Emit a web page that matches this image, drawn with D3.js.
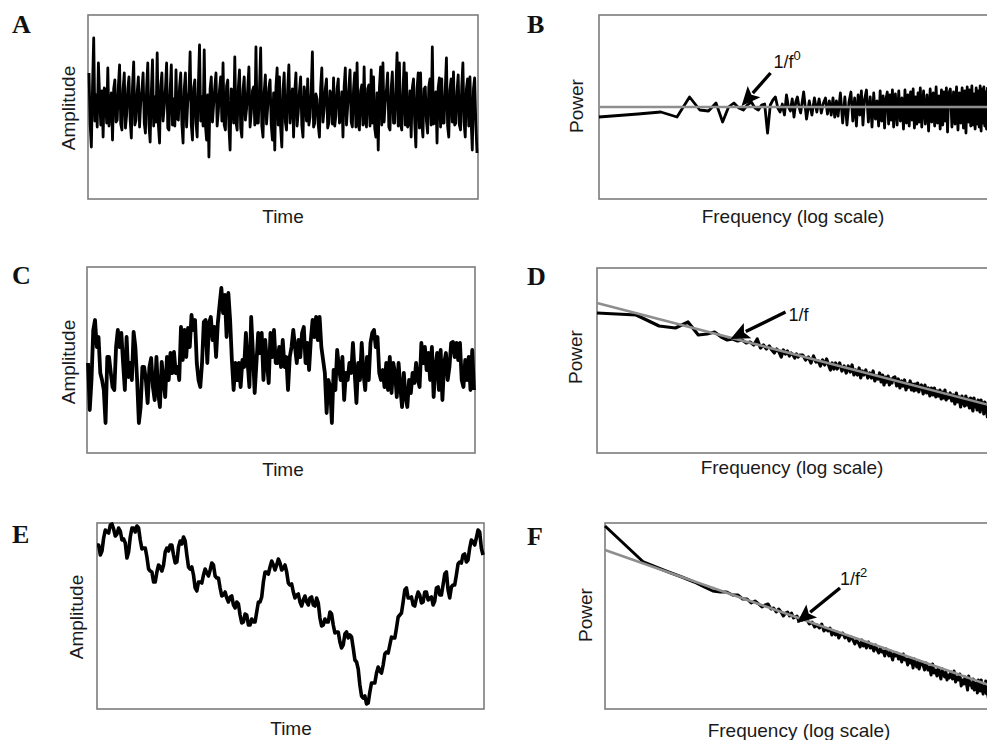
<!DOCTYPE html>
<html>
<head>
<meta charset="utf-8">
<script src="https://cdn.jsdelivr.net/npm/d3@7"></script>
<style>
  html, body { margin: 0; padding: 0; background: #fff; }
  svg { display: block; }
</style>
</head>
<body>
<svg id="chart" width="987" height="740"></svg>
<script>
// ---------------- DATA ----------------
// Time series amplitudes (arbitrary units, equally spaced samples)
const timeA = [34, -18, -40, 20, 69, -14, 12, -20, 44, 12, -18, 16, -30, 19, 17, -16, 39, -19, -3, 14,
  -33, 18, 27, -15, -13, 21, 42, -17, -23, 18, 34, -21, -8, 18, 30, -13, -31, 20, 45, -18,
  -13, 15, 30, -20, 5, 17, 34, -16, -26, 19, 44, -18, -35, 14, 47, -19, 10, -15, 54, -18,
  -36, 21, 34, -14, 0, 18, 44, -21, -23, 16, 42, -18, 8, -19, 37, -12, -13, 20, 34, -17,
  -36, 18, 34, -20, 5, 15, 55, -18, -33, 19, 27, -16, -30, 21, 62, -14, 10, -19, 57, -18,
  -33, 12, -50, 18, 30, -15, 2, 20, 34, -19, -5, 17, 30, -14, 44, -18, -23, 21, 27, -20,
  -43, 18, 17, -16, 50, -15, -23, 19, 37, -21, -30, 17, 30, -13, -2, 18, 40, -20, -6, 16,
  20, -18, 60, -16, -16, 18, 59, -19, -30, 15, 32, -17, 0, 19, 27, -18, -33, 14, -43, 20,
  39, -18, 30, -21, -40, 17, 34, -15,
  -23, 18, 42, -16, 5, 18, -30, 15, 34, -19, -5, 16, 30, -18, -30, 20, 10, -14, 28, -18,
  -10, 17, 55, -20, -16, 13, 8, -18, -30, 19, 39, -15, -2, 18, 28, -21, -16, 16, 12, -17,
  29, -19, -8, 18, 28, -16, -13, 15, -30, 20, 39, -18, 0, 19, 37, -15, -20, 18, 34, -20,
  44, -17, -23, 16, 22, -18, 40, -14, -20, 18, 22, -19, 37, -16, 30, -21, -30, 14, -43, 19,
  40, -18, 44, -15, 5, 17, 34, -20, -23, 18, 35, -16, -16, 18, 54, -19, 44, -17, -23, 15,
  44, -18, 34, -20, -16, 16, -30, 19, 28, -15, -40, 18, 34, -21, 34, -16, -30, 18, 20, -14,
  -26, 20, 28, -18, 60, -17, -16, 15, -36, 19, 29, -20, 28, -16, -16, 18, 49, -19, -30, 17,
  28, -15, 35, -18, -16, 16, 32, -18, -23, 20, 44, -16, -30, 18, 28, -19, 30, -14, -43, 18,
  29, -17, -46];

const timeC = [-3, -50, -20, 30, 40, 13, 23, -13, -20, -30, -63, 3, 3, -13, -27, -30, 13, 30, 13, 27,
  -3, -30, 23, -17, -3, -20, 28, 13, -20, -63, -47, -7, -7, -20, -43, -7, 2, -27, -40, 3,
  -33, -47, -2, -20, -37, 3, -20, 7, -13, 8, -13, -7, -20, 33, 0, 30, 3, 32, 13, 45,
  30, 40, -3, -20, -27, -3, 38, 40, -3, 37, 43, 20, 33, 3, 37, 55, 72, 47, 65, 23,
  67, 40, 0, -30, -3, -20, -3, -27, 0, -7, 27, -3, -27, 43, 7, -33, -3, 27, 7, 27,
  -20, 20, -3, -23, 27, 3, 30, -3,
  -3, 13, -7, 20, -7, 3, -30, 3, 13, 30, 13, -3, 20, 3, 27, 33, -3, 17, -10, 20,
  40, 23, 43, 20, 43, 13, 0, -13, -53, -20, -27, -63, -10, -30, 10, -7, -20, 3, -40, -13,
  -20, -3, -13, 17, -13, -43, -3, -20, 17, -13, -30, 3, -20, 17, 27, 30, 13, 23, -13, -20,
  -10, -27, -3, -30, 3, -33, -3, -13, -37, -3, -27, -47, -13, -37, -47, -20, -33, -13, -23, -3,
  -20, -27, 17, -3, 13, -10, 7, -20, 13, -37, -7, 7, -30, 10, -40, -3, 7, -20, -7, 17,
  18, 3, 17, 0, 17, -20, -27, 0, -20, 3, -30, 10, -30];

const timeE = [164, 164, 154, 158, 171, 179, 177, 176, 184, 185, 180, 173, 175, 181, 178, 169, 170, 166, 151, 157,
  172, 181, 181, 177, 183, 181, 169, 160, 161, 161, 152, 140, 138, 137, 127, 127, 137, 144, 142, 138,
  144, 157, 161, 158, 164, 164, 154, 146, 147, 162, 168, 165, 172, 168, 154, 142, 140, 142, 134, 121,
  118, 127, 127, 126, 134, 140, 136, 133, 139, 146, 144, 133, 131, 131, 121, 113, 114, 117, 111, 107,
  112, 113, 104, 101, 107, 105, 94, 86, 87, 95, 94, 84, 84, 90, 87, 87, 97, 107, 107, 112,
  127, 137, 137, 135, 142, 148, 144, 139, 144, 150, 146, 139, 141, 144, 137, 126, 124, 125, 117, 111,
  114, 115, 107, 103, 109, 113, 107, 104, 111, 112, 104, 103, 111, 106, 91, 83, 84, 90, 87, 87,
  97, 95, 84, 76, 77, 77, 67, 61, 64, 75, 77, 71, 74, 72, 61, 49, 47, 40, 24, 13,
  11, 13, 5, 6, 17, 26, 26, 26, 36, 42, 38, 36, 44, 55, 57, 56, 64, 72, 71, 71,
  81, 92, 94, 96, 107, 119, 121, 111, 111, 112, 104, 103, 111, 117, 114, 106, 107, 117, 117, 109,
  111, 112, 104, 108, 121, 122, 114, 114, 124, 135, 137, 119, 111, 122, 124, 124, 134, 145, 147, 146,
  154, 155, 147, 149, 161, 169, 167, 164, 171, 179, 177, 161, 154];

// Frequency bins of the power spectra (shared)
const specFreq = [1, 2, 3, 4, 5, 6, 7, 8, 9, 10, 11, 12, 13, 14, 15, 16, 17, 18, 19, 20,
  21, 22, 23, 24, 25, 26, 27, 28, 29, 30, 31, 32, 33, 34, 35, 36,
  38, 40, 42, 44, 46, 48, 50, 52, 54, 56, 58, 60, 62, 64, 66, 68, 70,
  73, 76, 79, 82, 85, 88, 91, 94, 97, 100, 103, 106, 109, 112,
  116, 120, 124, 128, 132, 136, 140, 144, 148, 152, 156, 160, 164, 168, 172, 176, 180, 184, 188,
  194, 200, 206, 212, 218, 224, 230, 236, 242, 248, 254, 260, 266, 272, 278, 284, 290, 296, 302,
  310, 320, 330, 340, 350, 360, 370, 380, 390, 400, 410, 420, 430, 440, 450, 460, 470, 480, 490, 500,
  515, 530, 545, 560, 575, 590, 605, 620, 635, 650, 665, 680, 695, 710, 725, 740, 755, 770, 785, 800,
  815, 830, 845, 860, 875, 890, 905, 920, 935, 950, 965, 980, 995, 1010];

// Log power (arbitrary units)
const powerB = [-10, -7, -5, -10, 10, -3, -4, 4, -15, 0, 4, -1, -3, 2, 5, -1, -3, 2, 3, -26,
  2, 7, 10, -1, -5, 3, -8, 12, 0, -4, 8, -10, 5, 10, 0, -6,
  15, -12, 6, -8, 9, -5, 8, -6, 4, 9, -7, 6, -8, 9, -10, 6, -9,
  14, -16, 10, -18, 5, 15, -14, 9, -19, 12, -8, 16, -18, 7,
  17, -15, 10, -20, 14, -12, 6, -19, 16, -14, 11, -21, 8, 15, -17, 12, -13, 17, -20,
  13, -18, 16, -14, 9, -22, 17, -16, 12, -19, 15, -13, 18, -21, 10, -17, 14, -15, 19,
  -20, 16, -17, 12, -24, 18, -15, 14, -19, 20, -16, 11, -22, 17, -18, 15, -14, 19, -25, 13,
  18, -20, 15, -17, 20, -23, 14, -16, 19, -21, 16, -26, 20, -15, 17, -19, 21, -18, 13, -22,
  19, -17, 16, -20, 21, -24, 18, -16, 20, -19, 15, -22, 19, -18];

const powerD = [140, 138, 127, 125, 131, 118, 119, 121, 116, 113, 114, 112, 113, 110, 111, 108, 114, 105, 108, 104,
  107, 103, 100, 104, 101, 96, 103, 99, 102, 97, 100, 98, 95, 99, 96, 98,
  98, 93, 96, 90, 97, 91, 92, 87, 93, 88, 94, 88, 83, 90, 84, 90, 84,
  90, 82, 87, 80, 87, 81, 88, 78, 83, 78, 85, 75, 82, 78,
  83, 75, 80, 75, 82, 72, 77, 74, 80, 71, 78, 68, 76, 71, 77, 68, 74, 70, 75,
  76, 67, 74, 65, 72, 67, 73, 63, 69, 66, 72, 63, 69, 62, 69, 63, 70, 61, 66,
  68, 59, 68, 60, 65, 57, 65, 58, 65, 56, 62, 57, 63, 54, 61, 55, 63, 53, 59, 55,
  60, 52, 58, 49, 60, 51, 56, 46, 57, 51, 47, 57, 48, 54, 45, 55, 48, 42, 55, 46,
  51, 43, 53, 47, 41, 53, 44, 50, 39, 51, 42, 49, 36, 43];

const powerF = [183, 147, 138, 132, 127, 122, 118, 117, 117, 114, 114, 110, 110, 106, 108, 105, 102, 104, 105, 100,
  101, 97, 100, 97, 93, 96, 97, 93, 96, 91, 92, 93, 88, 91, 89, 91,
  90, 85, 87, 82, 84, 81, 85, 78, 80, 78, 81, 74, 77, 74, 77, 71, 74,
  76, 71, 73, 68, 72, 69, 65, 69, 66, 62, 69, 63, 66, 61,
  67, 61, 63, 58, 64, 59, 56, 61, 57, 58, 53, 60, 56, 53, 57, 53, 49, 56, 53,
  56, 50, 53, 47, 55, 49, 50, 44, 51, 46, 49, 41, 50, 45, 42, 47, 40, 44, 47,
  45, 39, 46, 39, 42, 34, 45, 36, 39, 33, 41, 35, 30, 40, 35, 32, 37, 29, 34, 31,
  37, 30, 38, 27, 32, 29, 35, 23, 29, 25, 32, 26, 19, 33, 24, 26, 21, 30, 19, 24,
  26, 16, 29, 20, 18, 29, 20, 15, 23, 17, 28, 15, 19, 11];

// Power-law fits (value at the first and last frequency)
const fitFreq = [1, 1024];
const fitB = [0, 0];
const fitD = [150, 48];
const fitF = [159, 24];

// Text
const panelLetters = ["A", "B", "C", "D", "E", "F"];
const timeTitle = "Time";
const ampTitle = "Amplitude";
const powerTitle = "Power";
const freqTitle = "Frequency (log scale)";
const slopeBase = ["1/f", "1/f", "1/f"];
const slopeSup = ["0", "", "2"];
// Where each slope arrow points (frequency bin, log power)
const arrowFreq = [12.6, 10.6, 32];
const arrowPow = [1, 114, 86];

// ---------------- LAYOUT ----------------
const svg = d3.select("#chart");
svg.append("rect").attr("width", 987).attr("height", 740).attr("fill", "#fff");

const SANS = "'Liberation Sans', Arial, Helvetica, sans-serif";
const SERIF = "'Liberation Serif', 'Times New Roman', serif";
const BOX = "#7c7c7c", FIT = "#8e8e8e", INK = "#000";

const timePanels = [
  {letter: 0, data: timeA, box: [88, 15, 478, 199], dataX: [89, 477], yDom: [-92, 92], lp: [12, 33], yl: [75, 108], xl: [283, 223], sw: 2.8},
  {letter: 2, data: timeC, box: [87, 267, 475, 453], dataX: [88, 474], yDom: [-93, 93], lp: [12, 284], yl: [75, 362], xl: [283, 476], sw: 3.8},
  {letter: 4, data: timeE, box: [97, 523, 484, 709], dataX: [97, 483], yDom: [0, 186], lp: [12, 543], yl: [83, 617], xl: [291, 735], sw: 3.6}
];
const specPanels = [
  {letter: 1, data: powerB, fit: fitB, box: [599, 15, 989, 199], yDom: [-92, 92], lp: [527, 33], yl: [583, 106], xl: [793, 223], ai: 0, tail: [29, -33], lab: [3, -5], sw: 2.8},
  {letter: 3, data: powerD, fit: fitD, box: [597, 268, 989, 453], yDom: [0, 185], lp: [527, 285], yl: [582, 357], xl: [792, 474], ai: 1, tail: [55, -27], lab: [3, 9], sw: 3.2},
  {letter: 5, data: powerF, fit: fitF, box: [605, 523, 989, 709], yDom: [0, 186], lp: [527, 545], yl: [592, 615], xl: [799, 737], ai: 2, tail: [43, -35], lab: [0, -3], sw: 3}
];

function frame(g, p) {
  const [x0, y0, x1, y1] = p.box;
  g.append("rect").attr("x", x0).attr("y", y0).attr("width", x1 - x0).attr("height", y1 - y0)
    .attr("fill", "none").attr("stroke", BOX).attr("stroke-width", 1.6);
  g.append("text").attr("x", p.lp[0]).attr("y", p.lp[1])
    .attr("font-family", SERIF).attr("font-weight", "bold").attr("font-size", 26).attr("fill", "#111")
    .text(panelLetters[p.letter]);
}
function yTitle(g, x, y, t) {
  g.append("text").attr("transform", `translate(${x},${y}) rotate(-90)`)
    .attr("text-anchor", "middle").attr("font-family", SANS).attr("font-size", 19).attr("fill", "#1a1a1a").text(t);
}
function xTitle(g, x, y, t) {
  g.append("text").attr("x", x).attr("y", y).attr("text-anchor", "middle")
    .attr("font-family", SANS).attr("font-size", 19).attr("fill", "#1a1a1a").text(t);
}

// ---- time series panels ----
timePanels.forEach(p => {
  const g = svg.append("g");
  const x = d3.scaleLinear().domain([0, p.data.length - 1]).range(p.dataX);
  const y = d3.scaleLinear().domain(p.yDom).range([p.box[3], p.box[1]]);
  frame(g, p);
  g.append("path").datum(p.data)
    .attr("d", d3.line().x((d, i) => x(i)).y(d => y(d)))
    .attr("fill", "none").attr("stroke", INK).attr("stroke-width", p.sw).attr("stroke-linejoin", "round");
  yTitle(g, p.yl[0], p.yl[1], ampTitle);
  xTitle(g, p.xl[0], p.xl[1], timeTitle);
});

// ---- spectrum panels ----
specPanels.forEach(p => {
  const g = svg.append("g");
  const x = d3.scaleLog().domain([fitFreq[0], fitFreq[1]]).range([p.box[0], p.box[2]]);
  const y = d3.scaleLinear().domain(p.yDom).range([p.box[3], p.box[1]]);
  frame(g, p);
  const pts = specFreq.map((f, i) => [f, p.data[i]]);
  g.append("path").datum(pts)
    .attr("d", d3.line().x(d => x(d[0])).y(d => y(d[1])))
    .attr("fill", "none").attr("stroke", INK).attr("stroke-width", p.sw).attr("stroke-linejoin", "round");
  const fitPts = fitFreq.map((f, i) => [f, p.fit[i]]);
  g.append("path").datum(fitPts)
    .attr("d", d3.line().x(d => x(d[0])).y(d => y(d[1])))
    .attr("fill", "none").attr("stroke", FIT).attr("stroke-width", 2.6);

  // arrow
  const tip = [x(arrowFreq[p.ai]), y(arrowPow[p.ai])];
  const tail = [tip[0] + p.tail[0], tip[1] + p.tail[1]];
  const dx = tail[0] - tip[0], dy = tail[1] - tip[1], L = Math.hypot(dx, dy);
  const ux = dx / L, uy = dy / L, px = -uy, py = ux;
  const hl = 19, hw = 8.5;
  const bx = tip[0] + ux * hl, by = tip[1] + uy * hl;
  g.append("line").attr("x1", tip[0] + ux * (hl - 2)).attr("y1", tip[1] + uy * (hl - 2))
    .attr("x2", tail[0]).attr("y2", tail[1]).attr("stroke", INK).attr("stroke-width", 3.4);
  g.append("path")
    .attr("d", `M${tip[0]},${tip[1]}L${bx + px * hw},${by + py * hw}L${tip[0] + ux * (hl - 4)},${tip[1] + uy * (hl - 4)}L${bx - px * hw},${by - py * hw}Z`)
    .attr("fill", INK);
  const t = g.append("text").attr("x", tail[0] + p.lab[0]).attr("y", tail[1] + p.lab[1])
    .attr("font-family", SANS).attr("font-size", 18).attr("fill", "#111");
  t.append("tspan").text(slopeBase[p.ai]);
  if (slopeSup[p.ai]) t.append("tspan").attr("dy", -8).attr("font-size", 13).text(slopeSup[p.ai]);

  yTitle(g, p.yl[0], p.yl[1], powerTitle);
  xTitle(g, p.xl[0], p.xl[1], freqTitle);
});
</script>
</body>
</html>
